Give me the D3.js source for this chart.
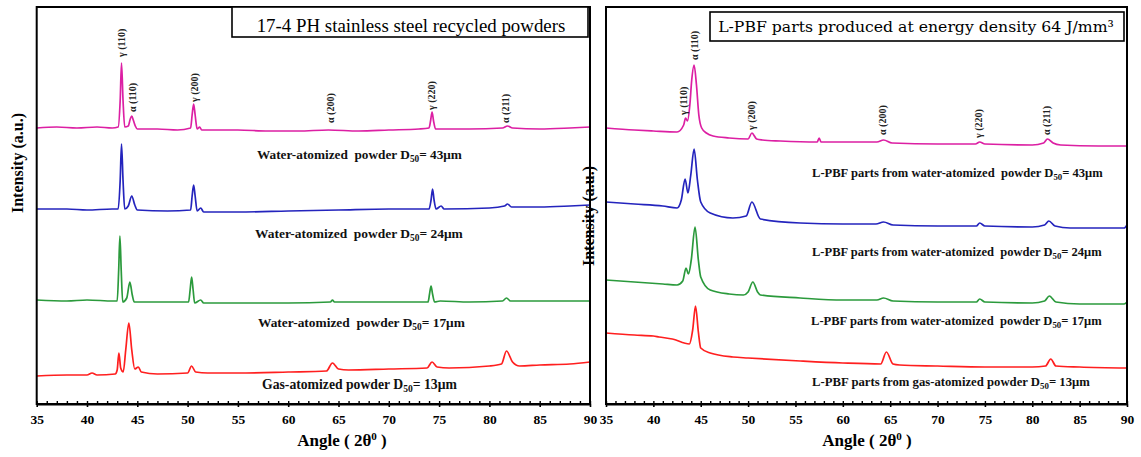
<!DOCTYPE html>
<html><head><meta charset="utf-8">
<script src="https://cdn.jsdelivr.net/npm/d3@7"></script>
<style>html,body{margin:0;padding:0;background:#fff;} svg{display:block}</style>
</head><body><svg id="c" width="1141" height="457"></svg>
<script>
// ---------------- DATA ----------------
const angleDomain = [35, 90];
const angleTicks = [35, 40, 45, 50, 55, 60, 65, 70, 75, 80, 85, 90];
const minorTicks = d3.range(35, 91, 1);

// Left panel: 17-4 PH stainless steel recycled powders  [angle 2θ, intensity a.u. (stacked)]
const powder43 = [[35,276],[37,277],[39,276],[41,277],[42.5,276],[43.1,277],[43.3,304],[43.43,341],[43.58,304],[43.75,277],[44.1,278],[44.3,285],[44.45,288],[44.6,284],[44.8,278],[45.0,275],[47,275],[49,274],[50.3,276],[50.45,289],[50.6,300],[50.75,289],[50.95,275],[51.2,277],[51.4,274],[55,274],[58,273],[61,273],[64,274],[67,273],[70,274],[73,275],[74.0,276],[74.15,283],[74.3,292],[74.45,283],[74.65,275],[75.2,275],[78,275],[81.3,276],[81.8,278],[82.3,276],[85,275],[88,276],[90,277]];
const powder24 = [[35,195],[38,195],[40,194],[42.5,195],[43.1,195],[43.3,224],[43.43,260],[43.58,224],[43.75,195],[44.1,198],[44.45,208],[44.75,199],[45,194],[48,193],[50.3,194],[50.45,208],[50.6,219],[50.75,208],[50.95,193],[51.3,196],[51.6,192],[55,192],[60,193],[65,194],[70,195],[74.0,195],[74.2,204],[74.35,215],[74.5,204],[74.7,195],[75.2,198],[75.5,195],[80,196],[81.5,198],[81.8,200],[82.2,197],[85,197],[88,198],[90,199]];
const powder17 = [[35,104],[38,103],[40,104],[42.6,103],[43.0,103],[43.15,134],[43.27,168],[43.4,134],[43.55,102],[43.95,106],[44.26,122],[44.5,109],[44.7,102],[47,102],[50.1,102],[50.25,114],[50.4,127],[50.55,114],[50.7,101],[51.3,104],[51.6,101],[55,101],[60,101],[64.2,102],[64.4,104],[64.6,102],[70,102],[73.9,102],[74.05,110],[74.2,118],[74.35,110],[74.55,102],[75.1,103],[78,102],[81.3,103],[81.7,106],[82.1,103],[86,103],[90,103]];
const powder13 = [[35,28],[38,29],[40,29],[40.5,31],[41,29],[42.8,30],[43.0,34],[43.17,51],[43.35,36],[43.6,32],[43.85,54],[44.16,81],[44.45,54],[44.75,35],[45.1,37],[45.4,32],[47,30],[50.0,31],[50.4,38],[50.8,32],[52,31],[55,31],[60,32],[63.8,33],[64.4,41],[65.0,35],[66,34],[70,35],[73.8,36],[74.3,42],[74.8,37],[76,36],[80,38],[81.2,40],[81.7,53],[82.3,42],[83,38],[85,39],[88,40],[90,42]];

// Right panel: L-PBF parts produced at energy density 64 J/mm3
const parts43 = [[35,276],[38,274],[40,273],[42.5,272],[43.2,279],[43.4,286],[43.6,283],[43.85,299],[44.05,324],[44.3,339],[44.55,319],[44.8,289],[45.1,276],[45.6,271],[46.3,268],[48,266],[50,265],[50.4,271],[50.9,265],[51.5,264],[53.4,263],[57.3,262],[57.5,266],[57.7,262],[60,262],[63.6,262],[64.3,264],[65.2,261],[70,260],[74.0,260],[74.45,262],[75,260],[80,259],[81.2,261],[81.6,265],[82.2,261],[83,259],[87,258],[90,258]];
const parts24 = [[35,202],[38,200],[41,198],[42.5,196],[42.95,204],[43.35,225],[43.65,211],[43.95,229],[44.3,255],[44.65,224],[45.0,202],[46,191],[48.4,186],[49.8,188],[50.4,202],[51.3,185],[55.5,181],[60,180],[63.5,180],[64.3,182],[65.3,179],[70,178],[74.1,178],[74.45,181],[75,178],[80,177],[81.3,179],[81.75,183],[82.4,178],[84,176],[88,176],[89.7,176],[90,179]];
const parts17 = [[35,124],[38,122],[41,120],[42.5,119],[43.1,123],[43.45,136],[43.7,130],[44.0,144],[44.4,177],[44.75,144],[45.0,127],[46,114],[48,110],[49.5,109],[50.0,112],[50.5,122],[51.0,112],[51.3,109],[55.5,106],[60,104],[63.6,104],[64.3,106],[65.3,103],[70,102],[74.1,102],[74.45,105],[75,102],[80,101],[81.3,103],[81.8,108],[82.5,102],[85,100],[89.7,100],[90,102]];
const parts13 = [[35,71],[38,69],[40,68],[40.6,67],[42,65],[43.8,60],[44.15,74],[44.45,98],[44.75,72],[45.0,56],[46,51],[48.4,47],[50,46],[55.5,43],[60,41],[64.0,40],[64.6,52],[65.3,40],[66,39],[70,38],[75,37],[80,37],[81.4,38],[81.95,45],[82.5,38],[85,37],[90,36]];

// Series names and colours
const seriesNamesLeft = ["Water-atomized  powder D|50|= 43μm", "Water-atomized  powder D|50|= 24μm", "Water-atomized  powder D|50|= 17μm", "Gas-atomized powder D|50|= 13μm"];
const seriesNamesRight = ["L-PBF parts from water-atomized  powder D|50|= 43μm", "L-PBF parts from water-atomized  powder D|50|= 24μm", "L-PBF parts from water-atomized  powder D|50|= 17μm", "L-PBF parts from gas-atomized powder D|50|= 13μm"];
const seriesColors = ["#dc1fa3", "#2424bd", "#2b9a3c", "#ff1f1f"];

// Peak annotations [label, angle, intensity at label start]
const peaksLeft = [["γ (110)",43.43,347],["α (110)",44.57,292],["γ (200)",50.64,302],["α (200)",64.25,281],["γ (220)",74.28,294],["α (211)",81.64,281]];
const peaksRight = [["γ (110)",43.13,289],["α (110)",44.29,344],["γ (200)",50.41,274],["α (200)",64.24,269],["γ (220)",74.37,266],["α (211)",81.55,269]];

const titles = ["17-4 PH stainless steel recycled powders", "L-PBF parts produced at energy density 64 J/mm³"];

// ---------------- LAYOUT ----------------
const svg = d3.select("#c");
svg.append("rect").attr("width",1141).attr("height",457).attr("fill","#fff");
const TOP = 7, BOTTOM = 404;
const y = d3.scaleLinear().domain([0, 397]).range([BOTTOM, TOP]);
const serif = "'Liberation Serif','Times New Roman',serif";

function fitWidth(t, target) {
  const w = t.node().getComputedTextLength();
  const fs = parseFloat(t.style("font-size"));
  t.style("font-size", (fs * target / w) + "px");
}

const panels = [
  { x0: 36.7, x1: 590, series: [powder43, powder24, powder17, powder13], names: seriesNamesLeft, peaks: peaksLeft,
    labelPos: [[257,159,205],[255,238,208],[258,327,207],[262,389,195]],
    title: titles[0], box: [232, 7, 588, 37], titleX: 411, titleY: 31.5, titleW: 309, titleFont: serif, titleSize: 17,
    ylab: [17, 163], xlabX: 342 },
  { x0: 606, x1: 1127, series: [parts43, parts24, parts17, parts13], names: seriesNamesRight, peaks: peaksRight,
    labelPos: [[812,177,291],[812,256,290],[811,325,291],[812,386,278]],
    title: titles[1], box: [710, 12, 1124, 41], titleX: 916, titleY: 32, titleW: 396, titleFont: "'DejaVu Serif',serif", titleSize: 16,
    ylab: [588, 216], xlabX: 867 }
];

panels.forEach(p => {
  const x = d3.scaleLinear().domain(angleDomain).range([p.x0, p.x1]);
  const g = svg.append("g");

  // traces
  const line = d3.line().x(d => x(d[0])).y(d => y(d[1])).curve(d3.curveMonotoneX);
  p.series.forEach((s, i) => {
    g.append("path").datum(s).attr("d", line).attr("fill","none")
      .attr("stroke", seriesColors[i]).attr("stroke-width", 1.7).attr("stroke-linejoin","round");
  });

  // frame
  g.append("rect").attr("x", p.x0).attr("y", TOP).attr("width", p.x1 - p.x0).attr("height", BOTTOM - TOP)
    .attr("fill","none").attr("stroke","#000").attr("stroke-width", 2);

  // axes
  const ax = g.append("g").attr("transform", `translate(0,${BOTTOM})`)
    .call(d3.axisBottom(x).tickValues(angleTicks).tickSize(3).tickSizeOuter(0).tickPadding(7).tickFormat(d3.format("d")));
  ax.select(".domain").attr("stroke-width", 2);
  ax.selectAll(".tick line").attr("stroke-width", 1.6);
  ax.selectAll("text").attr("font-family", serif).attr("font-weight","bold").attr("font-size", 13.5).attr("fill","#000");
  const axm = g.append("g").attr("transform", `translate(0,${BOTTOM})`)
    .call(d3.axisTop(x).tickValues(minorTicks).tickSize(3).tickSizeOuter(0).tickFormat(""));
  axm.select(".domain").remove();
  axm.selectAll(".tick line").attr("stroke-width", 1.4);

  // peak labels
  p.peaks.forEach(k => {
    g.append("text").attr("transform", `translate(${x(k[1])},${y(k[2])}) rotate(-90)`)
      .attr("text-anchor","start").attr("dominant-baseline","central")
      .attr("font-family", serif).attr("font-weight","bold").style("font-size","10px").attr("fill","#222")
      .text(k[0]);
  });

  // series labels
  p.names.forEach((n, i) => {
    const parts = n.split("|");
    const lp = p.labelPos[i];
    const t = g.append("text").attr("x", lp[0]).attr("y", lp[1])
      .attr("font-family", serif).attr("font-weight","bold").style("font-size","13px")
      .style("white-space","pre").attr("fill","#111");
    t.append("tspan").text(parts[0]);
    t.append("tspan").attr("dy", 3).style("font-size","70%").text(parts[1]);
    t.append("tspan").attr("dy", -3).text(parts[2]);
    fitWidth(t, lp[2]);
  });

  // title box
  g.append("rect").attr("x", p.box[0]).attr("y", p.box[1]).attr("width", p.box[2]-p.box[0]).attr("height", p.box[3]-p.box[1])
    .attr("fill","#fff").attr("stroke","#000").attr("stroke-width", 1.6);
  const tt = g.append("text").attr("x", p.titleX).attr("y", p.titleY).attr("text-anchor","middle")
    .attr("font-family", p.titleFont).style("font-size", p.titleSize + "px").attr("fill","#000").text(p.title);
  fitWidth(tt, p.titleW);

  // x label
  const xl = g.append("text").attr("x", p.xlabX).attr("y", 446).attr("text-anchor","middle")
    .attr("font-family", serif).attr("font-weight","bold").style("font-size","17px").attr("fill","#000");
  xl.append("tspan").text("Angle ( 2θ");
  xl.append("tspan").attr("dy", -6).style("font-size","65%").text("0");
  xl.append("tspan").attr("dy", 6).text(" )");
});

// y labels (drawn last so the right one sits over the left frame)
panels.forEach(p => {
  svg.append("text").attr("transform", `translate(${p.ylab[0]},${p.ylab[1]}) rotate(-90)`)
    .attr("text-anchor","middle").attr("dominant-baseline","central")
    .attr("font-family", serif).attr("font-weight","bold").style("font-size","16px").attr("fill","#000")
    .text("Intensity (a.u.)");
});
</script>
</body></html>
